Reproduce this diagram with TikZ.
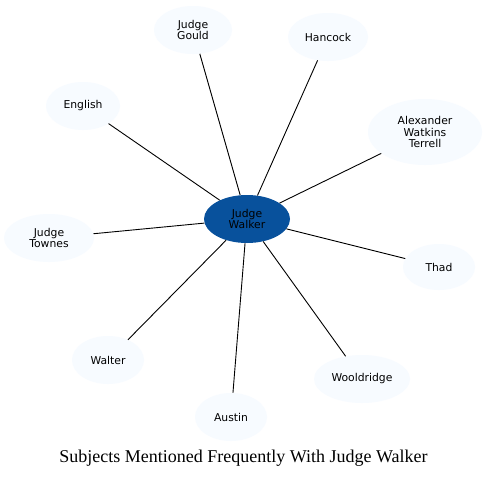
\documentclass[tikz,border=0pt]{standalone}
\usepackage{fontspec}
\setmainfont{Liberation Serif}
\newfontfamily\nodefont{DejaVu Sans}
\usetikzlibrary{shapes.geometric}
\definecolor{centerblue}{HTML}{08519C}
\definecolor{leafblue}{HTML}{F7FBFF}
\tikzset{
  leaf/.style={ellipse, fill=leafblue, draw=none, inner sep=0pt, align=center,
    font=\nodefont\fontsize{10.8}{11.5}\selectfont, text=black},
  hub/.style={leaf, fill=centerblue},
  link/.style={draw=black, line width=0.9pt},
}
\begin{document}
\begin{tikzpicture}[x=1pt,y=-1pt]
\useasboundingbox (0,0) rectangle (487,477);
\fill[white] (0,0) rectangle (487,477);
\node[hub, minimum width=86pt, minimum height=48pt] (w) at (247,219) {Judge\\Walker};
\node[leaf, minimum width=78pt, minimum height=48pt] (gould) at (193,30) {Judge\\Gould};
\node[leaf, minimum width=80pt, minimum height=48pt] (hancock) at (328,37) {Hancock};
\node[leaf, minimum width=114pt, minimum height=66pt] (terrell) at (425,132) {Alexander\\Watkins\\Terrell};
\node[leaf, minimum width=74pt, minimum height=48pt] (english) at (83,106) {English};
\node[leaf, minimum width=90pt, minimum height=48pt] (townes) at (49,238) {Judge\\Townes};
\node[leaf, minimum width=72pt, minimum height=46pt] (thad) at (439,267) {Thad};
\node[leaf, minimum width=72pt, minimum height=48pt] (walter) at (108,360) {Walter};
\node[leaf, minimum width=96pt, minimum height=48pt] (wooldridge) at (362,379) {Wooldridge};
\node[leaf, minimum width=72pt, minimum height=48pt] (austin) at (231,417) {Austin};
\foreach \n in {gould,hancock,terrell,english,townes,thad,walter,wooldridge,austin}
  \draw[link] (w) -- (\n);
\node[font=\fontsize{18}{21}\selectfont, anchor=base] (title) at (243.5,462) {Subjects Mentioned Frequently With Judge Walker};
\end{tikzpicture}
\end{document}
